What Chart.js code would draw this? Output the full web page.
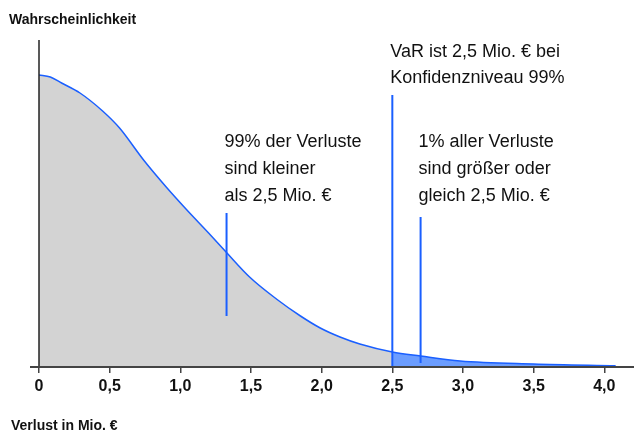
<!DOCTYPE html>
<html>
<head>
<meta charset="utf-8">
<script src="https://cdn.jsdelivr.net/npm/chart.js@4/dist/chart.umd.min.js"></script>
<style>
  html, body { margin: 0; padding: 0; background: #fff; }
  #wrap { width: 634px; height: 432px; position: relative; }
</style>
</head>
<body>
<div id="wrap"><canvas id="c" width="634" height="432"></canvas></div>
<script>
// ---- Data ----
const lossMio = [0, 0.08, 0.16, 0.29, 0.45, 0.57, 0.74, 0.9, 1.04, 1.2, 1.33, 1.49, 1.68, 1.85, 1.99, 2.13, 2.27, 2.5, 2.7, 2.98, 3.5, 4.08];
const probability = [292, 290, 284, 274, 256, 239, 207, 180, 158, 134, 114, 90, 68, 51, 39, 30, 23, 15, 11, 6, 3, 1.3];
const varLevel = 2.5;
const tickValues = [0, 0.5, 1.0, 1.5, 2.0, 2.5, 3.0, 3.5, 4.0];
const tickLabels = ['0', '0,5', '1,0', '1,5', '2,0', '2,5', '3,0', '3,5', '4,0'];
const markerX = [1.327, 2.5, 2.7];
const markerBottom = [51, 0, 4];
const markerTop = [154, 272, 150];
const noteX = [1.327, 2.5, 2.7];
const noteY = [220, 310, 220];
const noteLines = [
  ['99% der Verluste', 'sind kleiner', 'als 2,5 Mio. €'],
  ['VaR ist 2,5 Mio. € bei', 'Konfidenzniveau 99%'],
  ['1% aller Verluste', 'sind größer oder', 'gleich 2,5 Mio. €']
];
const yTitle = 'Wahrscheinlichkeit';
const xTitle = 'Verlust in Mio. €';

const BLUE = '#1a5fff';
const BLUE_FILL = '#6b9dff';
const GRAY_FILL = '#d3d3d3';

const curve = lossMio.map((x, i) => ({ x: x, y: probability[i] }));

const datasets = [{
  data: curve,
  borderColor: BLUE,
  borderWidth: 1.5,
  pointRadius: 0,
  fill: 'origin',
  backgroundColor: GRAY_FILL,
  cubicInterpolationMode: 'monotone',
  segment: {
    backgroundColor: ctx => ctx.p0.parsed.x >= varLevel ? BLUE_FILL : GRAY_FILL
  },
  order: 2
}];
markerX.forEach((mx, i) => {
  datasets.push({
    data: [{ x: mx, y: markerBottom[i] }, { x: mx, y: markerTop[i] }],
    borderColor: BLUE,
    borderWidth: 2,
    pointRadius: 0,
    fill: false,
    order: 1
  });
});

const decor = {
  id: 'decor',
  afterDraw(chart) {
    const ctx = chart.ctx;
    const a = chart.chartArea;
    const xs = chart.scales.x, ys = chart.scales.y;
    ctx.save();
    // axes
    ctx.strokeStyle = '#222';
    ctx.lineWidth = 1.5;
    ctx.beginPath();
    ctx.moveTo(a.left, a.top);
    ctx.lineTo(a.left, a.bottom);
    ctx.stroke();
    ctx.strokeStyle = '#444';
    ctx.lineWidth = 2;
    ctx.beginPath();
    ctx.moveTo(a.left - 9, a.bottom);
    ctx.lineTo(a.right, a.bottom);
    ctx.stroke();
    // titles
    ctx.fillStyle = '#111';
    ctx.textBaseline = 'alphabetic';
    ctx.textAlign = 'left';
    ctx.font = 'bold 14px "Liberation Sans", Arial, sans-serif';
    ctx.fillText(yTitle, 9, 23.5);
    ctx.fillText(xTitle, 11, 430);
    // notes
    ctx.font = '18px "Liberation Sans", Arial, sans-serif';
    noteLines.forEach((lines, i) => {
      const px = xs.getPixelForValue(noteX[i]) - 2;
      const py = ys.getPixelForValue(noteY[i]);
      const lh = lines.length === 2 ? 26 : 27;
      lines.forEach((t, j) => ctx.fillText(t, px, py + j * lh));
    });
    ctx.restore();
  }
};

new Chart(document.getElementById('c'), {
  type: 'line',
  data: { datasets: datasets },
  options: {
    responsive: false,
    animation: false,
    layout: { padding: { left: 39, top: 40, right: 0, bottom: 0 } },
    plugins: { legend: { display: false }, tooltip: { enabled: false } },
    scales: {
      x: {
        type: 'linear',
        min: 0,
        max: 4.21,
        border: { display: false },
        grid: { drawOnChartArea: false, tickLength: 6, color: '#444', lineWidth: 1.5 },
        afterBuildTicks: s => { s.ticks = tickValues.map(v => ({ value: v })); },
        afterFit: s => { s.height = 65; },
        ticks: {
          includeBounds: false,
          autoSkip: false,
          maxRotation: 0,
          padding: 4,
          color: '#111',
          font: { family: '"Liberation Sans", Arial, sans-serif', size: 16, weight: 'bold' },
          callback: (v) => { const k = tickValues.indexOf(v); return k >= 0 ? tickLabels[k] : ''; }
        }
      },
      y: {
        display: false,
        min: 0,
        max: 327
      }
    }
  },
  plugins: [decor]
});
</script>
</body>
</html>
